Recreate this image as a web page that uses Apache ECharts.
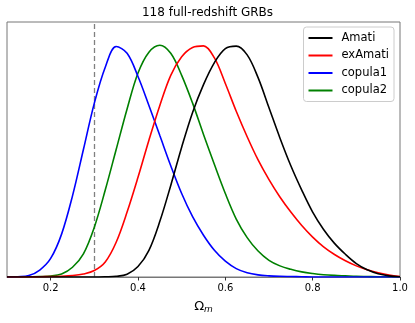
<!DOCTYPE html>
<html>
<head>
<meta charset="utf-8">
<script src="https://cdn.jsdelivr.net/npm/echarts@6/dist/echarts.min.js"></script>
<style>
  html, body { margin: 0; padding: 0; background: #fff; }
  #chart { width: 415px; height: 323px; }
</style>
</head>
<body>
<div id="chart"></div>
<script>
// Omega_m grid and normalised posterior curves
var omega = [0.1, 0.125, 0.15, 0.175, 0.2, 0.225, 0.25, 0.275, 0.3, 0.325, 0.35, 0.375,
             0.4, 0.425, 0.45, 0.475, 0.5, 0.525, 0.55, 0.575, 0.6, 0.625, 0.65, 0.675,
             0.7, 0.725, 0.75, 0.775, 0.8, 0.825, 0.85, 0.875, 0.9, 0.925, 0.95, 0.975, 1.0];
var amati = [0, 0, 0, 0, 0, 0, 0, 0, 0, 0.001, 0.003, 0.012,
             0.045, 0.115, 0.24, 0.395, 0.56, 0.71, 0.83, 0.925, 0.985, 0.996, 0.958, 0.86,
             0.73, 0.60, 0.48, 0.375, 0.28, 0.205, 0.145, 0.098, 0.058, 0.031, 0.014, 0.005, 0.001];
var exAmati = [0, 0, 0, 0.001, 0.002, 0.003, 0.006, 0.013, 0.028, 0.065, 0.15, 0.28,
               0.43, 0.59, 0.74, 0.87, 0.95, 0.99, 0.997, 0.945, 0.835, 0.715, 0.605, 0.505,
               0.42, 0.345, 0.28, 0.222, 0.172, 0.13, 0.097, 0.07, 0.048, 0.031, 0.018, 0.008, 0.002];
var copula1 = [0, 0.001, 0.006, 0.03, 0.08, 0.185, 0.35, 0.55, 0.75, 0.905, 0.994, 0.965,
               0.865, 0.74, 0.61, 0.48, 0.36, 0.26, 0.18, 0.115, 0.068, 0.036, 0.018, 0.009,
               0.005, 0.003, 0.002, 0.001, 0, 0, 0, 0, 0, 0, 0, 0, 0];
var copula2 = [0, 0, 0.001, 0.002, 0.004, 0.013, 0.042, 0.10, 0.215, 0.375, 0.55, 0.725,
               0.88, 0.97, 1.0, 0.965, 0.87, 0.75, 0.615, 0.485, 0.36, 0.25, 0.17, 0.112,
               0.072, 0.048, 0.033, 0.022, 0.015, 0.01, 0.007, 0.005, 0.003, 0.002, 0.001, 0.001, 0];
var xTicks = [0.2, 0.4, 0.6, 0.8, 1.0];
var refOmega = 0.3;

var names = ['Amati', 'exAmati', 'copula1', 'copula2'];
var colors = ['#000000', '#ff0000', '#0000ff', '#008000'];
var curves = [amati, exAmati, copula1, copula2];

var FONT = 'DejaVu Sans';

function pairs(vals) {
  return omega.map(function (x, i) { return [x, vals[i]]; });
}

var series = curves.map(function (vals, k) {
  return {
    name: names[k],
    type: 'line',
    data: pairs(vals),
    smooth: 0.35,
    symbol: 'none',
    z: 10 - k,
    lineStyle: { color: colors[k], width: 1.6 },
    itemStyle: { color: colors[k] }
  };
});

series[0].markLine = {
  silent: true,
  symbol: ['none', 'none'],
  label: { show: false },
  lineStyle: { color: '#808080', type: [5, 3], width: 1.3 },
  data: [{ xAxis: refOmega }]
};

var chart = echarts.init(document.getElementById('chart'));
chart.setOption({
  animation: false,
  backgroundColor: '#fff',
  textStyle: { fontFamily: FONT },
  title: {
    text: '118 full-redshift GRBs',
    left: 'center',
    top: 2,
    textStyle: { fontFamily: FONT, fontSize: 12, fontWeight: 'normal', color: '#000' }
  },
  legend: {
    orient: 'vertical',
    right: 21,
    top: 27,
    data: names.map(function (n) { return { name: n, icon: 'rect' }; }),
    itemWidth: 24,
    itemHeight: 2,
    itemGap: 5.5,
    padding: [5, 5, 5, 5],
    borderColor: '#cccccc',
    borderWidth: 1,
    borderRadius: 3,
    backgroundColor: 'rgba(255,255,255,0.8)',
    textStyle: { fontFamily: FONT, fontSize: 11.5, lineHeight: 12, color: '#000', padding: [0, 0, 0, 4] }
  },
  grid: {
    left: 7, right: 15, top: 22, bottom: 46,
    show: true,
    borderColor: '#777',
    borderWidth: 1,
    backgroundColor: 'transparent'
  },
  xAxis: {
    type: 'value',
    min: 0.1,
    max: 1.0,
    name: '{o|Ω}{m|m}',
    nameLocation: 'middle',
    nameGap: 22,
    nameTextStyle: {
      rich: {
        o: { fontFamily: FONT, fontSize: 13, color: '#000' },
        m: { fontFamily: FONT, fontSize: 9, fontStyle: 'italic', color: '#000', padding: [6, 0, 0, 0] }
      }
    },
    axisLine: { show: true, lineStyle: { color: '#777', width: 1 } },
    axisTick: { show: true, length: 3.5, customValues: xTicks, lineStyle: { color: '#333' } },
    axisLabel: {
      customValues: xTicks,
      fontFamily: FONT,
      fontSize: 10,
      color: '#000',
      margin: 6,
      formatter: function (v) { return v.toFixed(1); }
    },
    splitLine: { show: false }
  },
  yAxis: {
    type: 'value',
    min: 0,
    max: 1.1,
    axisLine: { show: false },
    axisTick: { show: false },
    axisLabel: { show: false },
    splitLine: { show: false }
  },
  series: series
});
</script>
</body>
</html>
